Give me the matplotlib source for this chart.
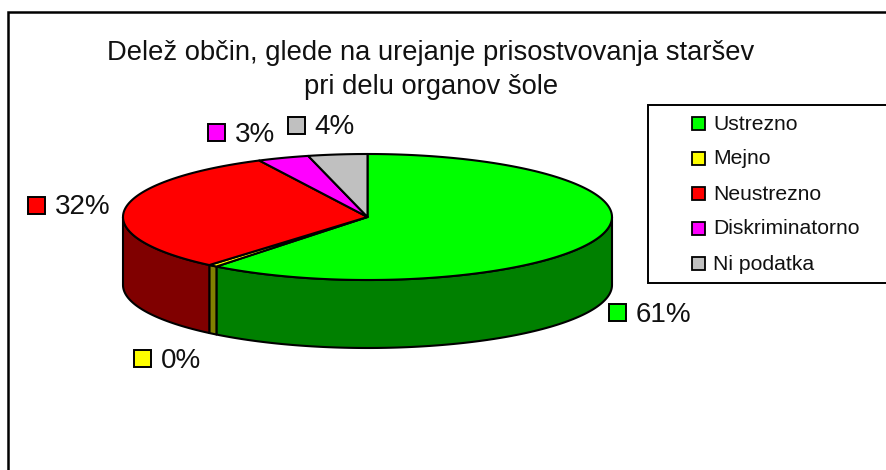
#!/bin/env python3

import numpy as np
import matplotlib
matplotlib.use('Agg')
import matplotlib.pyplot as plt
from matplotlib.patches import Polygon, Rectangle

# Data:
categories = ['Ustrezno', 'Mejno', 'Neustrezno', 'Diskriminatorno', 'Ni podatka']
values     = [60.6, 0.6, 31.5, 3.4, 3.9]
pct_labels = ['61%', '0%', '32%', '3%', '4%']
colors     = ['#00ff00', '#ffff00', '#ff0000', '#ff00ff', '#c0c0c0']
dark       = ['#008000', '#808000', '#800000', '#800080', '#808080']

title = 'Delež občin, glede na urejanje prisostvovanja staršev\npri delu organov šole'

plt.rcParams['font.family'] = ['Liberation Sans', 'DejaVu Sans']

# Pie geometry in pixels:
cx, cy = 367.5, 217
rx, ry = 244.5, 63
depth  = 68

# Label box position per slice (left of swatch, vertical centre):
lab_xy = [(609, 312), (134, 358), (28, 205), (208, 132), (288, 125)]

fig = plt.figure(figsize=(8.86, 4.70), dpi=100)
ax = fig.add_axes([0, 0, 1, 1])
ax.set_xlim(0, 886)
ax.set_ylim(470, 0)
ax.axis('off')

# Chart frame, runs off the right and bottom of the image:
ax.add_patch(Rectangle((8, 11.5), 900, 480, fc='white', ec='black', lw=1.8))


def arc(t0, t1):
    """Points on the top ellipse, angles clockwise from 12 o'clock"""
    t = np.linspace(t0, t1, max(2, int(abs(t1-t0)*60)))
    return cx + rx*np.sin(t), cy - ry*np.cos(t)


edges = np.cumsum([0] + values)/100*2*np.pi

# Side wall, only the front half of the ellipse shows (pi/2 .. 3pi/2):
for i in range(len(values)):
    t0 = max(edges[i], np.pi/2)
    t1 = min(edges[i+1], 3*np.pi/2)
    if t1 <= t0:
        continue
    x, y = arc(t0, t1)
    pts = np.r_[np.c_[x, y], np.c_[x[::-1], y[::-1] + depth]]
    ax.add_patch(Polygon(pts, fc=dark[i], ec='black', lw=1.5, joinstyle='round'))

# Top face:
for i in range(len(values)):
    x, y = arc(edges[i], edges[i+1])
    pts = np.r_[[[cx, cy]], np.c_[x, y]]
    ax.add_patch(Polygon(pts, fc=colors[i], ec='black', lw=1.5, joinstyle='round'))

# Data labels:
for i in range(len(values)):
    lx, ly = lab_xy[i]
    ax.add_patch(Rectangle((lx, ly-8.5), 17, 17, fc=colors[i], ec='black', lw=1.4))
    ax.text(lx+26.5, ly+2.5, pct_labels[i], fontsize=20, va='center', ha='left', color='#111111')

# Title:
ax.text(431, 70, title, fontsize=19.7, ha='center', va='center', color='#111111', linespacing=1.38)

# Legend:
ax.add_patch(Rectangle((648, 105), 245, 178, fc='white', ec='black', lw=1.4))
for i, name in enumerate(categories):
    ly = 123 + i*35
    ax.add_patch(Rectangle((692, ly-6.5), 13, 13, fc=colors[i], ec='black', lw=1.3))
    ax.text(713, ly+1, name, fontsize=15.2, va='center', ha='left', color='#111111')

plt.savefig('out.png', dpi=100)
plt.close()
